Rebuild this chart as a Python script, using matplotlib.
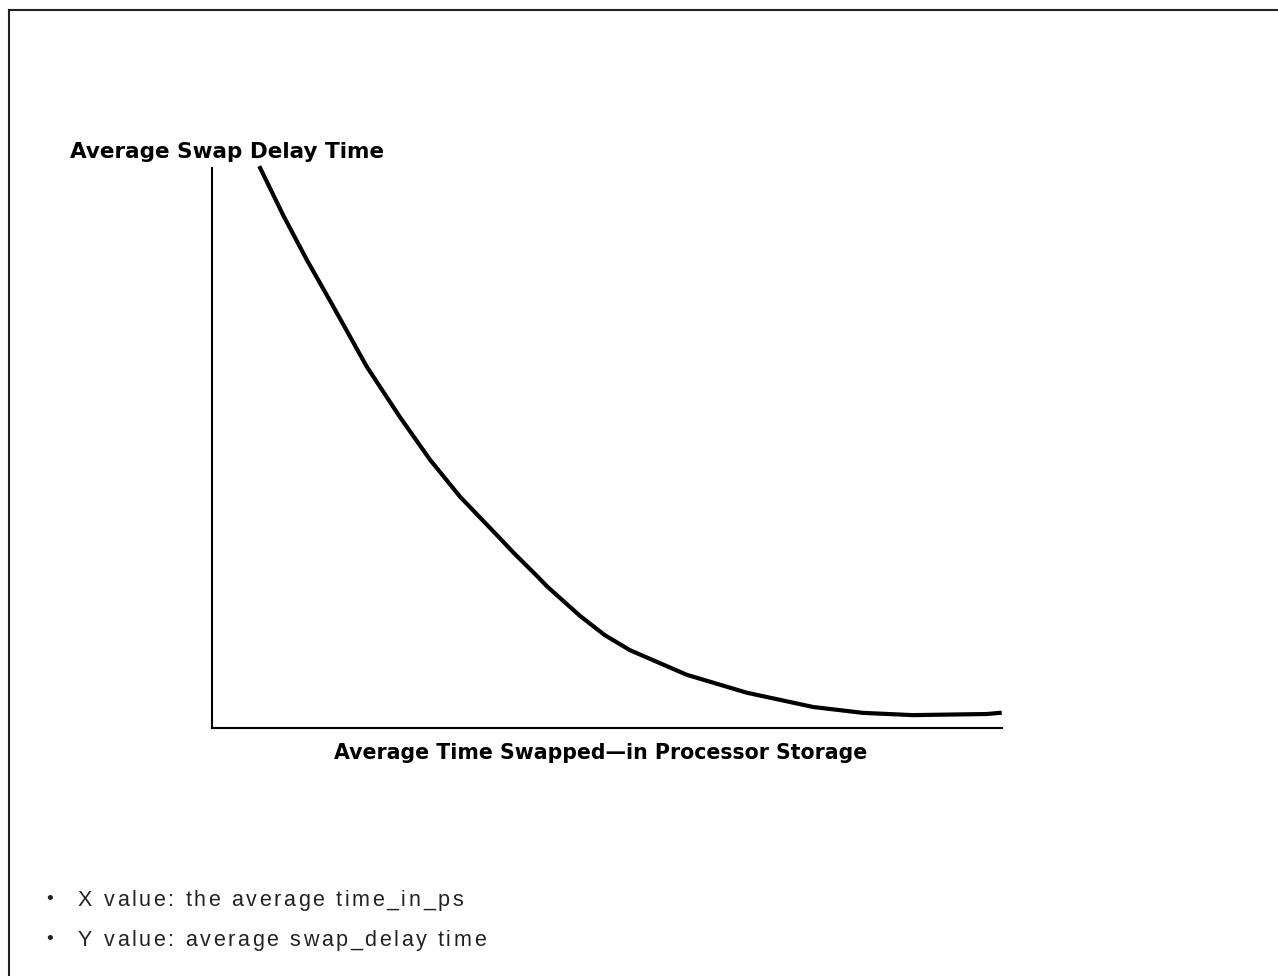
import matplotlib
matplotlib.use("Agg")
import matplotlib.pyplot as plt
from matplotlib.lines import Line2D

# Data (arbitrary units)
time_swapped_in = [6.1, 9.0, 12.0, 14.9, 19.6, 23.8, 27.6, 31.4, 36.5, 38.1,
                   41.1, 42.4, 46.6, 49.7, 52.9, 60.1, 67.7, 76.1, 82.4, 88.7,
                   98.1, 99.7]
swap_delay = [100.0, 91.6, 83.6, 76.4, 64.5, 55.5, 47.9, 41.3, 33.8, 31.4,
              27.2, 25.3, 20.0, 16.6, 13.9, 9.5, 6.3, 3.75, 2.7, 2.3,
              2.5, 2.7]

y_title = "Average Swap Delay Time"
x_title = "Average Time Swapped\u2014in Processor Storage"
notes = ["X value: the average time_in_ps", "Y value: average swap_delay time"]

W, H = 1278, 976
fig = plt.figure(figsize=(W / 100, H / 100), dpi=100)

def fx(px):
    return px / W

def fy(py):
    return 1 - py / H

# axes region in pixels: x 212..1002, y 168..728
ax = fig.add_axes([fx(212), fy(728), fx(1002) - fx(212), fy(168) - fy(728)])
ax.plot(time_swapped_in, swap_delay, color="black", lw=3.0, clip_on=False,
        solid_joinstyle="round")
ax.set_xlim(0, 100)
ax.set_ylim(0, 100)
ax.spines["top"].set_visible(False)
ax.spines["right"].set_visible(False)
for s in ("left", "bottom"):
    ax.spines[s].set_linewidth(1.5)
ax.set_xticks([])
ax.set_yticks([])

fig.text(fx(70), fy(152), y_title, ha="left", va="center",
         fontsize=15.5, fontweight="bold", family="DejaVu Sans")
fig.text(fx(601), fy(753), x_title, ha="center", va="center",
         fontsize=14.8, fontweight="bold", family="DejaVu Sans")

fig.canvas.draw()
renderer = fig.canvas.get_renderer()

def tracked_text(x0, y0, s, tracking, **kw):
    """Draw s starting at pixel x0 with extra spacing (pixels) between chars."""
    probe = fig.text(0, 0, "n n", **kw)
    probe2 = fig.text(0, 0, "nn", **kw)
    space_w = (probe.get_window_extent(renderer).width
               - probe2.get_window_extent(renderer).width)
    probe.remove()
    probe2.remove()
    x = x0
    for ch in s:
        if ch == " ":
            w = space_w
        else:
            t = fig.text(fx(x), fy(y0), ch, ha="left", va="baseline", **kw)
            w = t.get_window_extent(renderer).width
        x += w + tracking

note_kw = dict(fontsize=15.5, family="Liberation Sans", color="#222222")
for i, t in enumerate(notes):
    base = 906 + 40 * i
    fig.text(fx(46), fy(base - 7), "\u2022", ha="left", va="center",
             fontsize=14, family="Liberation Sans", color="#222222")
    tracked_text(78, base, t, 2.6, **note_kw)

# outer frame (top and left)
fig.add_artist(Line2D([fx(9), 1.0], [fy(10), fy(10)], color="#222222", lw=1.5,
                      transform=fig.transFigure))
fig.add_artist(Line2D([fx(9), fx(9)], [fy(10), 0.0], color="#222222", lw=1.5,
                      transform=fig.transFigure))

fig.savefig("out.png", dpi=100)
